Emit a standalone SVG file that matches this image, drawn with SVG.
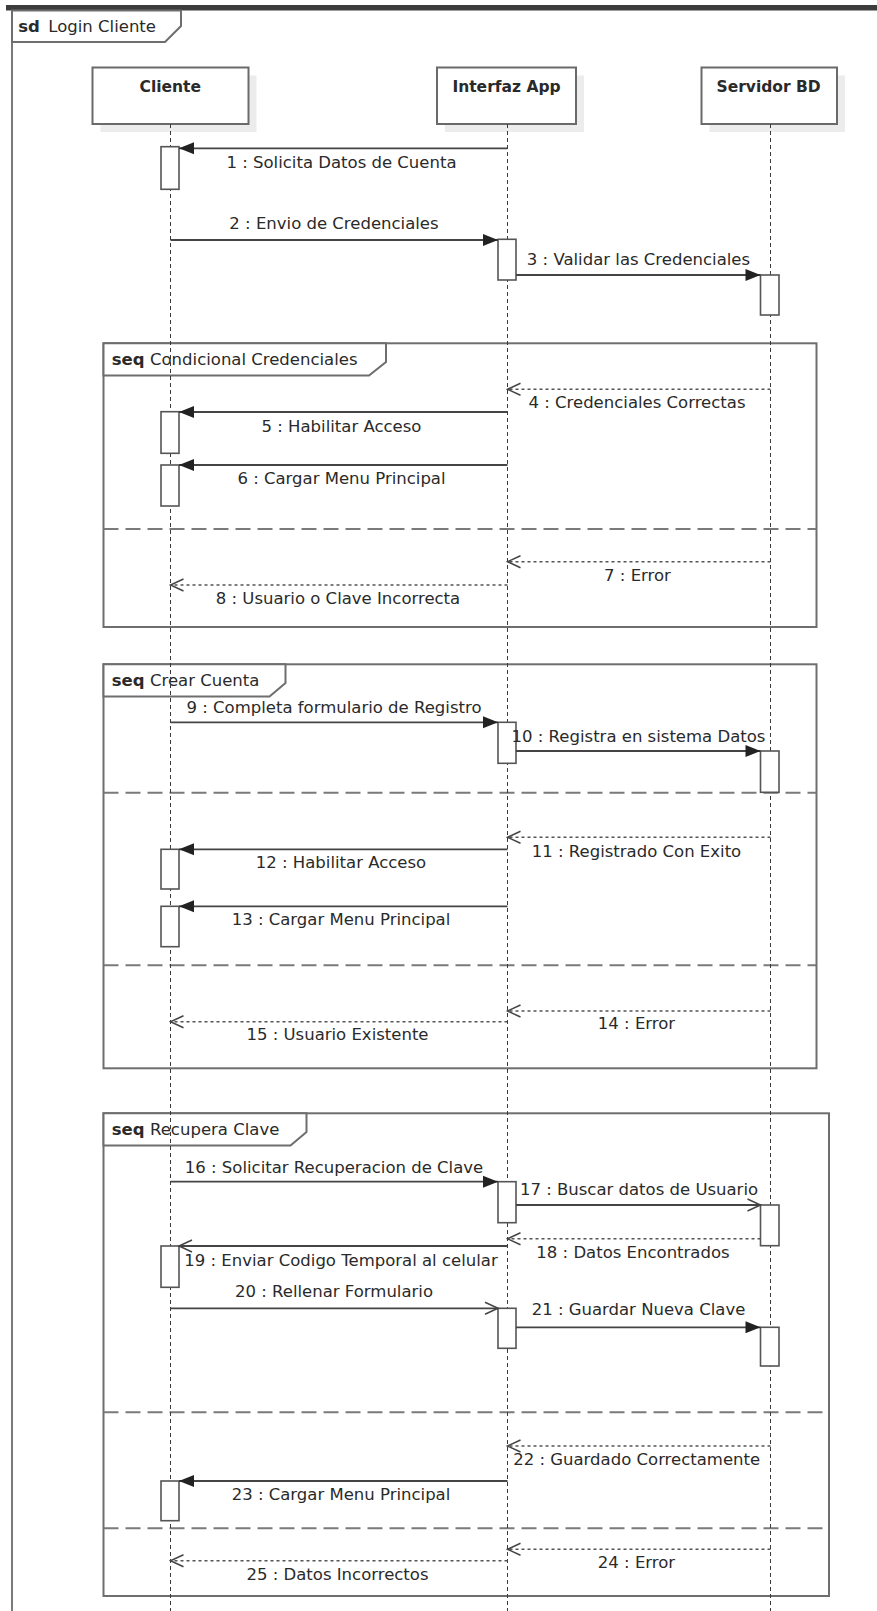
<svg xmlns="http://www.w3.org/2000/svg" width="877" height="1611" viewBox="0 0 877 1611">
  <style>
    text { font-family: "DejaVu Sans", "Liberation Sans", sans-serif; fill: #2a2a2a; }
    .msg { font-size: 16.5px; text-anchor: middle; }
    .kw { font-size: 16.5px; font-weight: bold; }
    .fname { font-size: 16.5px; }
    .pname { font-size: 15.5px; font-weight: bold; text-anchor: middle; }
    .head { fill: #fff; stroke: #6a6a6a; stroke-width: 2; }
    .shadow { fill: #ececec; }
    .life { stroke: #3a3a3a; stroke-width: 1; stroke-dasharray: 4 3; fill: none; }
    .act { fill: #fff; stroke: #555; stroke-width: 1.6; }
    .frame { fill: none; stroke: #6e6e6e; stroke-width: 2; }
    .tab { fill: #fff; stroke: #6e6e6e; stroke-width: 2; }
    .sep { stroke: #7a7a7a; stroke-width: 2; stroke-dasharray: 15 7; fill: none; }
    .call { stroke: #444; stroke-width: 1.8; fill: none; marker-end: url(#solid); }
    .async { stroke: #444; stroke-width: 1.8; fill: none; marker-end: url(#open); }
    .reply { stroke: #555; stroke-width: 1.6; stroke-dasharray: 3 3; fill: none; marker-end: url(#open); }
  </style>
  <defs>
    <marker id="solid" markerUnits="userSpaceOnUse" markerWidth="16" markerHeight="14" refX="15" refY="6" orient="auto" overflow="visible">
      <path d="M0,0 L15,6 L0,12 z" fill="#222"/>
    </marker>
    <marker id="open" markerUnits="userSpaceOnUse" markerWidth="14" markerHeight="14" refX="13" refY="6" orient="auto" overflow="visible">
      <path d="M0,0 L13,6 L0,12" fill="none" stroke="#444" stroke-width="1.5"/>
    </marker>
  </defs>

  <rect width="877" height="1611" fill="#fff"/>

  <!-- outer sd frame -->
  <g id="frame-sd">
    <rect x="6" y="5" width="871" height="5.5" fill="#3c3c3c"/>
    <line x1="12" y1="10" x2="12" y2="1611" stroke="#7a7a7a" stroke-width="2"/>
    <polygon class="tab" points="12,10.5 181,10.5 181,26 165,42 12,42"/>
    <text class="kw" x="18.3" y="31.7">sd</text>
    <text class="fname" x="48.3" y="31.7">Login Cliente</text>
  </g>

  <!-- combined fragments -->
  <g id="frag-condicional">
    <rect class="frame" x="103.5" y="343.3" width="713" height="283.7"/>
    <polygon class="tab" points="103.5,343.3 386,343.3 386,362 369,375.5 103.5,375.5"/>
    <text class="kw" x="111.7" y="365">seq</text>
    <text class="fname" x="150" y="365">Condicional Credenciales</text>
    <line class="sep" x1="103.5" y1="529" x2="816.5" y2="529"/>
  </g>
  <g id="frag-crear">
    <rect class="frame" x="103.5" y="664.3" width="713" height="404"/>
    <polygon class="tab" points="103.5,664.3 285.5,664.3 285.5,683 269.5,696.5 103.5,696.5"/>
    <text class="kw" x="111.7" y="686">seq</text>
    <text class="fname" x="150" y="686">Crear Cuenta</text>
    <line class="sep" x1="103.5" y1="792.7" x2="816.5" y2="792.7"/>
    <line class="sep" x1="103.5" y1="965.3" x2="816.5" y2="965.3"/>
  </g>
  <g id="frag-recupera">
    <rect class="frame" x="103.5" y="1113.3" width="725.5" height="482.7"/>
    <polygon class="tab" points="103.5,1113.3 306.5,1113.3 306.5,1132 290.5,1145.5 103.5,1145.5"/>
    <text class="kw" x="111.7" y="1135">seq</text>
    <text class="fname" x="150" y="1135">Recupera Clave</text>
    <line class="sep" x1="103.5" y1="1412.3" x2="829" y2="1412.3"/>
    <line class="sep" x1="103.5" y1="1528.3" x2="829" y2="1528.3"/>
  </g>

  <!-- lifelines -->
  <g id="cliente">
    <rect class="shadow" x="100.5" y="75.5" width="156" height="56.5"/>
    <rect class="head" x="92.5" y="67.5" width="156" height="56.5"/>
    <text class="pname" x="170.3" y="91.7">Cliente</text>
    <line class="life" x1="170.5" y1="124" x2="170.5" y2="1611"/>
    <rect class="act" x="161" y="146.7" width="18" height="42.6"/>
    <rect class="act" x="161" y="411.7" width="18" height="41.6"/>
    <rect class="act" x="161" y="465" width="18" height="41"/>
    <rect class="act" x="161" y="849.3" width="18" height="39.7"/>
    <rect class="act" x="161" y="906.3" width="18" height="40.4"/>
    <rect class="act" x="161" y="1246" width="18" height="41.3"/>
    <rect class="act" x="161" y="1481" width="18" height="39.7"/>
  </g>
  <g id="interfaz-app">
    <rect class="shadow" x="445" y="75.5" width="139" height="56.5"/>
    <rect class="head" x="437" y="67.5" width="139" height="56.5"/>
    <text class="pname" x="506.5" y="91.7">Interfaz App</text>
    <line class="life" x1="507.5" y1="124" x2="507.5" y2="1611"/>
    <rect class="act" x="498" y="239.3" width="18" height="40.7"/>
    <rect class="act" x="498" y="722.3" width="18" height="41"/>
    <rect class="act" x="498" y="1181.7" width="18" height="41"/>
    <rect class="act" x="498" y="1308.3" width="18" height="40"/>
  </g>
  <g id="servidor-bd">
    <rect class="shadow" x="709.5" y="75.5" width="135.5" height="56.5"/>
    <rect class="head" x="701.5" y="67.5" width="135.5" height="56.5"/>
    <text class="pname" x="768.6" y="91.7">Servidor BD</text>
    <line class="life" x1="770.5" y1="124" x2="770.5" y2="1611"/>
    <rect class="act" x="760.5" y="275" width="18.5" height="40"/>
    <rect class="act" x="760.5" y="751" width="18.5" height="41.3"/>
    <rect class="act" x="760.5" y="1205" width="18.5" height="40.7"/>
    <rect class="act" x="760.5" y="1327.3" width="18.5" height="38.7"/>
  </g>

  <!-- messages -->
  <g id="messages">
    <path class="call" d="M507.5,148.3 H179"/>
    <text class="msg" x="341.5" y="168.3">1 : Solicita Datos de Cuenta</text>

    <path class="call" d="M170.5,240 H498"/>
    <text class="msg" x="334" y="229.3">2 : Envio de Credenciales</text>

    <path class="call" d="M516,275 H760.5"/>
    <text class="msg" x="638.5" y="265">3 : Validar las Credenciales</text>

    <path class="reply" d="M770.5,389.3 H507.5"/>
    <text class="msg" x="637" y="408.3">4 : Credenciales Correctas</text>

    <path class="call" d="M507.5,412 H179"/>
    <text class="msg" x="341.5" y="431.7">5 : Habilitar Acceso</text>

    <path class="call" d="M507.5,465 H179"/>
    <text class="msg" x="341.5" y="484">6 : Cargar Menu Principal</text>

    <path class="reply" d="M770.5,561.7 H507.5"/>
    <text class="msg" x="637.5" y="580.7">7 : Error</text>

    <path class="reply" d="M507.5,585 H170.5"/>
    <text class="msg" x="338" y="604">8 : Usuario o Clave Incorrecta</text>

    <path class="call" d="M170.5,722.3 H498"/>
    <text class="msg" x="334" y="713.3">9 : Completa formulario de Registro</text>

    <path class="call" d="M516,751 H760.5"/>
    <text class="msg" x="638.5" y="741.7">10 : Registra en sistema Datos</text>

    <path class="reply" d="M770.5,837.3 H507.5"/>
    <text class="msg" x="636.5" y="856.7">11 : Registrado Con Exito</text>

    <path class="call" d="M507.5,849.3 H179"/>
    <text class="msg" x="341" y="867.7">12 : Habilitar Acceso</text>

    <path class="call" d="M507.5,906.3 H179"/>
    <text class="msg" x="341" y="925">13 : Cargar Menu Principal</text>

    <path class="reply" d="M770.5,1011 H507.5"/>
    <text class="msg" x="636.5" y="1029.3">14 : Error</text>

    <path class="reply" d="M507.5,1021.7 H170.5"/>
    <text class="msg" x="337.5" y="1040">15 : Usuario Existente</text>

    <path class="call" d="M170.5,1181.7 H498"/>
    <text class="msg" x="334" y="1172.7">16 : Solicitar Recuperacion de Clave</text>

    <path class="async" d="M516,1205 H760.5"/>
    <text class="msg" x="639" y="1195">17 : Buscar datos de Usuario</text>

    <path class="reply" d="M760.5,1238.8 H507.5"/>
    <text class="msg" x="633" y="1258.3">18 : Datos Encontrados</text>

    <path class="async" d="M507.5,1246 H179"/>
    <text class="msg" x="341" y="1266">19 : Enviar Codigo Temporal al celular</text>

    <path class="async" d="M170.5,1308.3 H498"/>
    <text class="msg" x="334" y="1296.7">20 : Rellenar Formulario</text>

    <path class="call" d="M516,1327.3 H760.5"/>
    <text class="msg" x="638.5" y="1315">21 : Guardar Nueva Clave</text>

    <path class="reply" d="M770.5,1446 H507.5"/>
    <text class="msg" x="636.7" y="1465">22 : Guardado Correctamente</text>

    <path class="call" d="M507.5,1481 H179"/>
    <text class="msg" x="341" y="1500">23 : Cargar Menu Principal</text>

    <path class="reply" d="M770.5,1549.3 H507.5"/>
    <text class="msg" x="636.5" y="1568.3">24 : Error</text>

    <path class="reply" d="M507.5,1560.7 H170.5"/>
    <text class="msg" x="337.5" y="1580">25 : Datos Incorrectos</text>
  </g>
</svg>
